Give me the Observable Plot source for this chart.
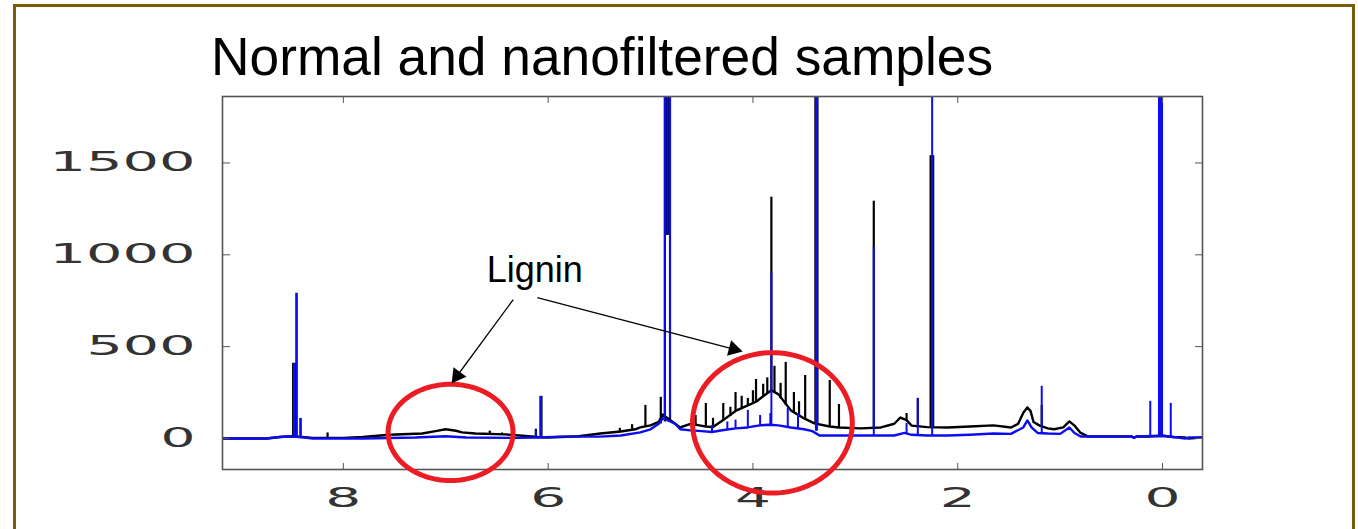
<!DOCTYPE html>
<html><head><meta charset="utf-8">
<script src="https://cdn.jsdelivr.net/npm/d3@7"></script>
<script src="https://cdn.jsdelivr.net/npm/@observablehq/plot@0.6"></script>
<style>
html,body{margin:0;padding:0;background:#fff;overflow:hidden;}
#wrap{position:relative;width:1358px;height:529px;overflow:hidden;background:#fff;}
#border{position:absolute;left:13px;top:4px;width:1336px;height:640px;border:3px solid #7b5c0e;}
#title{position:absolute;left:211px;top:30px;font-family:"Liberation Sans",Arial,sans-serif;font-size:53.3px;line-height:53px;color:#000;white-space:nowrap;}
#chart{position:absolute;left:0;top:0;}
</style></head>
<body><div id="wrap"><div id="border"></div><div id="title"></div><div id="chart"></div></div>
<script>
// ---- text ----
const titleText = "Normal and nanofiltered samples";
const annotationLabel = "Lignin";

// ---- axes ----
const xDomain = [9.18, -0.39];
const yDomain = [-169, 1862];
const xTicks = [8, 6, 4, 2, 0];
const yTicks = [0, 500, 1000, 1500];

// ---- normal sample (black): baseline envelope ----
const normalPpm = [9.18, 8.75, 8.62, 8.52, 8.40, 8.30, 8.00, 7.81, 7.55, 7.23, 7.10, 7.00, 6.90, 6.84, 6.71, 6.42, 6.25, 6.10, 6.00, 5.88, 5.70, 5.49, 5.29, 5.15, 5.10, 5.00, 4.92, 4.88, 4.76, 4.71, 4.61, 4.51, 4.46, 4.39, 4.29, 4.17, 4.05, 3.97, 3.90, 3.82, 3.75, 3.63, 3.50, 3.40, 3.25, 3.16, 2.95, 2.75, 2.62, 2.56, 2.50, 2.45, 2.30, 2.10, 1.88, 1.65, 1.48, 1.41, 1.36, 1.32, 1.29, 1.26, 1.20, 1.12, 1.06, 0.97, 0.91, 0.86, 0.80, 0.73, 0.30, 0.28, 0.25, 0.14, 0.00, -0.10, -0.22, -0.25, -0.39];
const normalInt = [0, 0, 8, 12, 8, 3, 3, 8, 20, 27, 40, 50, 42, 33, 27, 22, 15, 8, 5, 8, 12, 27, 38, 50, 60, 71, 90, 130, 80, 60, 80, 70, 65, 62, 100, 150, 180, 200, 230, 262, 240, 153, 109, 82, 65, 60, 55, 60, 80, 114, 100, 70, 62, 60, 65, 71, 60, 80, 140, 169, 150, 90, 70, 55, 50, 60, 93, 70, 30, 11, 11, 5, 11, 11, 15, 8, 5, 0, 5];
// normal sample: sharp peaks (position, foot, top)
const normalPeakPpm = [8.49, 8.475, 8.457, 8.418, 8.154, 6.57, 6.45, 6.12, 6.075, 6.065, 5.30, 5.18, 5.05, 4.90, 4.86, 4.845, 4.835, 4.825, 4.81, 4.56, 4.46, 4.39, 4.29, 4.22, 4.17, 4.11, 4.05, 4.00, 3.97, 3.90, 3.86, 3.82, 3.79, 3.73, 3.68, 3.60, 3.55, 3.49, 3.39, 3.37, 3.25, 3.16, 2.82, 2.50, 2.39, 2.265, 2.24, 1.18];
const normalPeakBase = [12, 12, 12, 12, 3, 22, 22, 8, 5, 5, 38, 50, 60, 80, 90, 1107, 1107, 1107, 90, 70, 65, 62, 100, 120, 150, 165, 180, 190, 200, 230, 245, 262, 250, 215, 180, 140, 125, 109, 82, 82, 65, 60, 55, 100, 62, 60, 60, 70];
const normalPeakTop = [409, 409, 790, 109, 30, 40, 30, 50, 229, 229, 55, 75, 180, 224, 4000, 4000, 4000, 4000, 4000, 125, 190, 110, 190, 170, 250, 230, 218, 260, 321, 295, 330, 1314, 393, 300, 414, 250, 200, 343, 4000, 4000, 316, 185, 1292, 136, 218, 1540, 1540, 180];

// ---- nanofiltered sample (blue): baseline envelope ----
const filteredPpm = [9.18, 8.75, 8.62, 8.52, 8.40, 8.30, 7.80, 7.30, 7.00, 6.80, 6.30, 6.10, 5.88, 5.49, 5.29, 5.10, 5.00, 4.92, 4.88, 4.76, 4.71, 4.61, 4.50, 4.40, 4.30, 4.17, 4.05, 3.95, 3.85, 3.75, 3.63, 3.50, 3.42, 3.35, 3.00, 2.62, 2.52, 2.45, 2.30, 2.10, 1.88, 1.65, 1.48, 1.36, 1.32, 1.28, 1.22, 1.12, 1.00, 0.91, 0.86, 0.80, 0.30, 0.28, 0.25, 0.00, -0.15, -0.22, -0.26, -0.39];
const filteredInt = [0, 0, 8, 12, 6, 0, 0, 5, 12, 5, 3, 5, 10, 10, 16, 33, 50, 80, 110, 80, 50, 44, 40, 35, 45, 55, 60, 70, 75, 71, 60, 50, 40, 16, 16, 16, 30, 20, 16, 16, 20, 27, 25, 60, 98, 60, 30, 27, 25, 60, 30, 11, 11, 3, 11, 15, 5, 0, 5, 5];
// nanofiltered sample: sharp peaks
const filteredPeakPpm = [8.482, 8.457, 8.418, 6.12, 6.07, 4.90, 4.86, 4.835, 4.81, 4.40, 4.25, 4.17, 4.05, 3.93, 3.83, 3.82, 3.66, 3.56, 3.385, 3.38, 3.375, 2.82, 2.50, 2.39, 2.25, 1.18, 0.12, 0.035, 0.02, 0.005, -0.08];
const filteredPeakBase = [12, 12, 12, 5, 5, 80, 110, 1107, 110, 35, 45, 55, 60, 70, 75, 75, 65, 55, 40, 40, 40, 16, 25, 16, 16, 27, 11, 15, 15, 15, 8];
const filteredPeakTop = [409, 790, 109, 40, 229, 98, 4000, 4000, 4000, 70, 90, 100, 153, 125, 136, 900, 164, 136, 4000, 4000, 4000, 1041, 82, 218, 4000, 284, 202, 4000, 4000, 4000, 191];

// ---- annotations (data coordinates) ----
const labelPpm = [6.13], labelInt = [851];
const ringPpm = [6.953, 3.81], ringInt = [33, 85];
const ringRadPpm = [0.61, 0.78], ringRadInt = [262, 382];
const arrowFromPpm = [6.341, 6.106], arrowFromInt = [756, 767];
const arrowToPpm = [6.94, 4.104], arrowToInt = [302, 474];

document.getElementById("title").textContent = titleText;

const W = 1358, H = 529, mL = 222, mR = 156, mT = 96, mB = 60;
const xs = Plot.scale({x: {domain: xDomain, range: [mL, W - mR]}});
const ys = Plot.scale({y: {domain: yDomain, range: [H - mB, mT]}});

const heads = arrowFromPpm.map((_, i) => {
  const x1 = xs.apply(arrowFromPpm[i]), y1 = ys.apply(arrowFromInt[i]);
  const x2 = xs.apply(arrowToPpm[i]), y2 = ys.apply(arrowToInt[i]);
  const dx = x2 - x1, dy = y2 - y1, L = Math.hypot(dx, dy);
  const back = 9;
  return {x: xs.invert(x2 - dx / L * back), y: ys.invert(y2 - dy / L * back),
          rotate: Math.atan2(dx, -dy) * 180 / Math.PI};
});

const idx = a => d3.range(a.length);
const ellipseAngles = d3.range(0, 361, 3);
const ringMarks = ringPpm.map((_, k) => Plot.line(ellipseAngles, {
  x: a => ringPpm[k] + ringRadPpm[k] * Math.cos(a * Math.PI / 180),
  y: a => ringInt[k] + ringRadInt[k] * Math.sin(a * Math.PI / 180),
  stroke: "#ec1c24", strokeWidth: 5
}));

const blue = "#0c0cf0";
const plot = Plot.plot({
  width: W, height: H,
  marginLeft: mL, marginRight: mR, marginTop: mT, marginBottom: mB,
  x: {domain: xDomain, label: null},
  y: {domain: yDomain, label: null},
  style: {background: "transparent", fontFamily: "'DejaVu Sans', sans-serif", fontSize: "26px"},
  marks: [
    Plot.line(idx(normalPpm), {x: i => normalPpm[i], y: i => normalInt[i], stroke: "#000", strokeWidth: 2.4, clip: true}),
    Plot.ruleX(idx(normalPeakPpm), {x: i => normalPeakPpm[i], y1: i => normalPeakBase[i], y2: i => normalPeakTop[i], stroke: "#000", strokeWidth: 2.2, clip: true}),
    Plot.line(idx(filteredPpm), {x: i => filteredPpm[i], y: i => filteredInt[i], stroke: blue, strokeWidth: 2.4, clip: true}),
    Plot.ruleX(idx(filteredPeakPpm), {x: i => filteredPeakPpm[i], y1: i => filteredPeakBase[i], y2: i => filteredPeakTop[i], stroke: blue, strokeWidth: 2, clip: true}),
    Plot.frame({stroke: "#555", strokeWidth: 1.6}),
    Plot.axisX({ticks: xTicks, tickSize: -6, tickPadding: 25, stroke: "#555", fill: "#333", label: null}),
    Plot.axisX({anchor: "top", ticks: xTicks, tickSize: -6, tickFormat: () => "", stroke: "#555", label: null}),
    Plot.axisY({ticks: yTicks, tickSize: -8, tickPadding: 35, tickFormat: d => `${d}`, stroke: "#555", fill: "#333", label: null}),
    Plot.axisY({anchor: "right", ticks: yTicks, tickSize: -8, tickFormat: () => "", stroke: "#555", label: null}),
    ...ringMarks,
    Plot.link(heads, {x1: (d, i) => arrowFromPpm[i], y1: (d, i) => arrowFromInt[i], x2: "x", y2: "y", stroke: "#000", strokeWidth: 1.3}),
    Plot.dot(heads, {x: "x", y: "y", rotate: "rotate", symbol: "triangle", r: 6, fill: "#000", stroke: null}),
    Plot.text(idx(labelPpm), {x: i => labelPpm[i], y: i => labelInt[i], text: () => annotationLabel, textAnchor: "middle", lineAnchor: "bottom", fontFamily: "'Liberation Sans', Arial, sans-serif", fontSize: 36, fill: "#000"})
  ]
});

d3.select(plot).selectAll('g[aria-label="y-axis tick label"] text').each(function () {
  const n = this.textContent.length;
  if (n) { this.setAttribute("textLength", 37 * n - 2); this.setAttribute("lengthAdjust", "spacingAndGlyphs"); }
});
d3.select(plot).selectAll('g[aria-label="x-axis tick label"] text').each(function () {
  const n = this.textContent.length;
  if (n) { this.setAttribute("textLength", 36 * n); this.setAttribute("lengthAdjust", "spacingAndGlyphs"); }
});

document.getElementById("chart").appendChild(plot);
</script></body></html>
